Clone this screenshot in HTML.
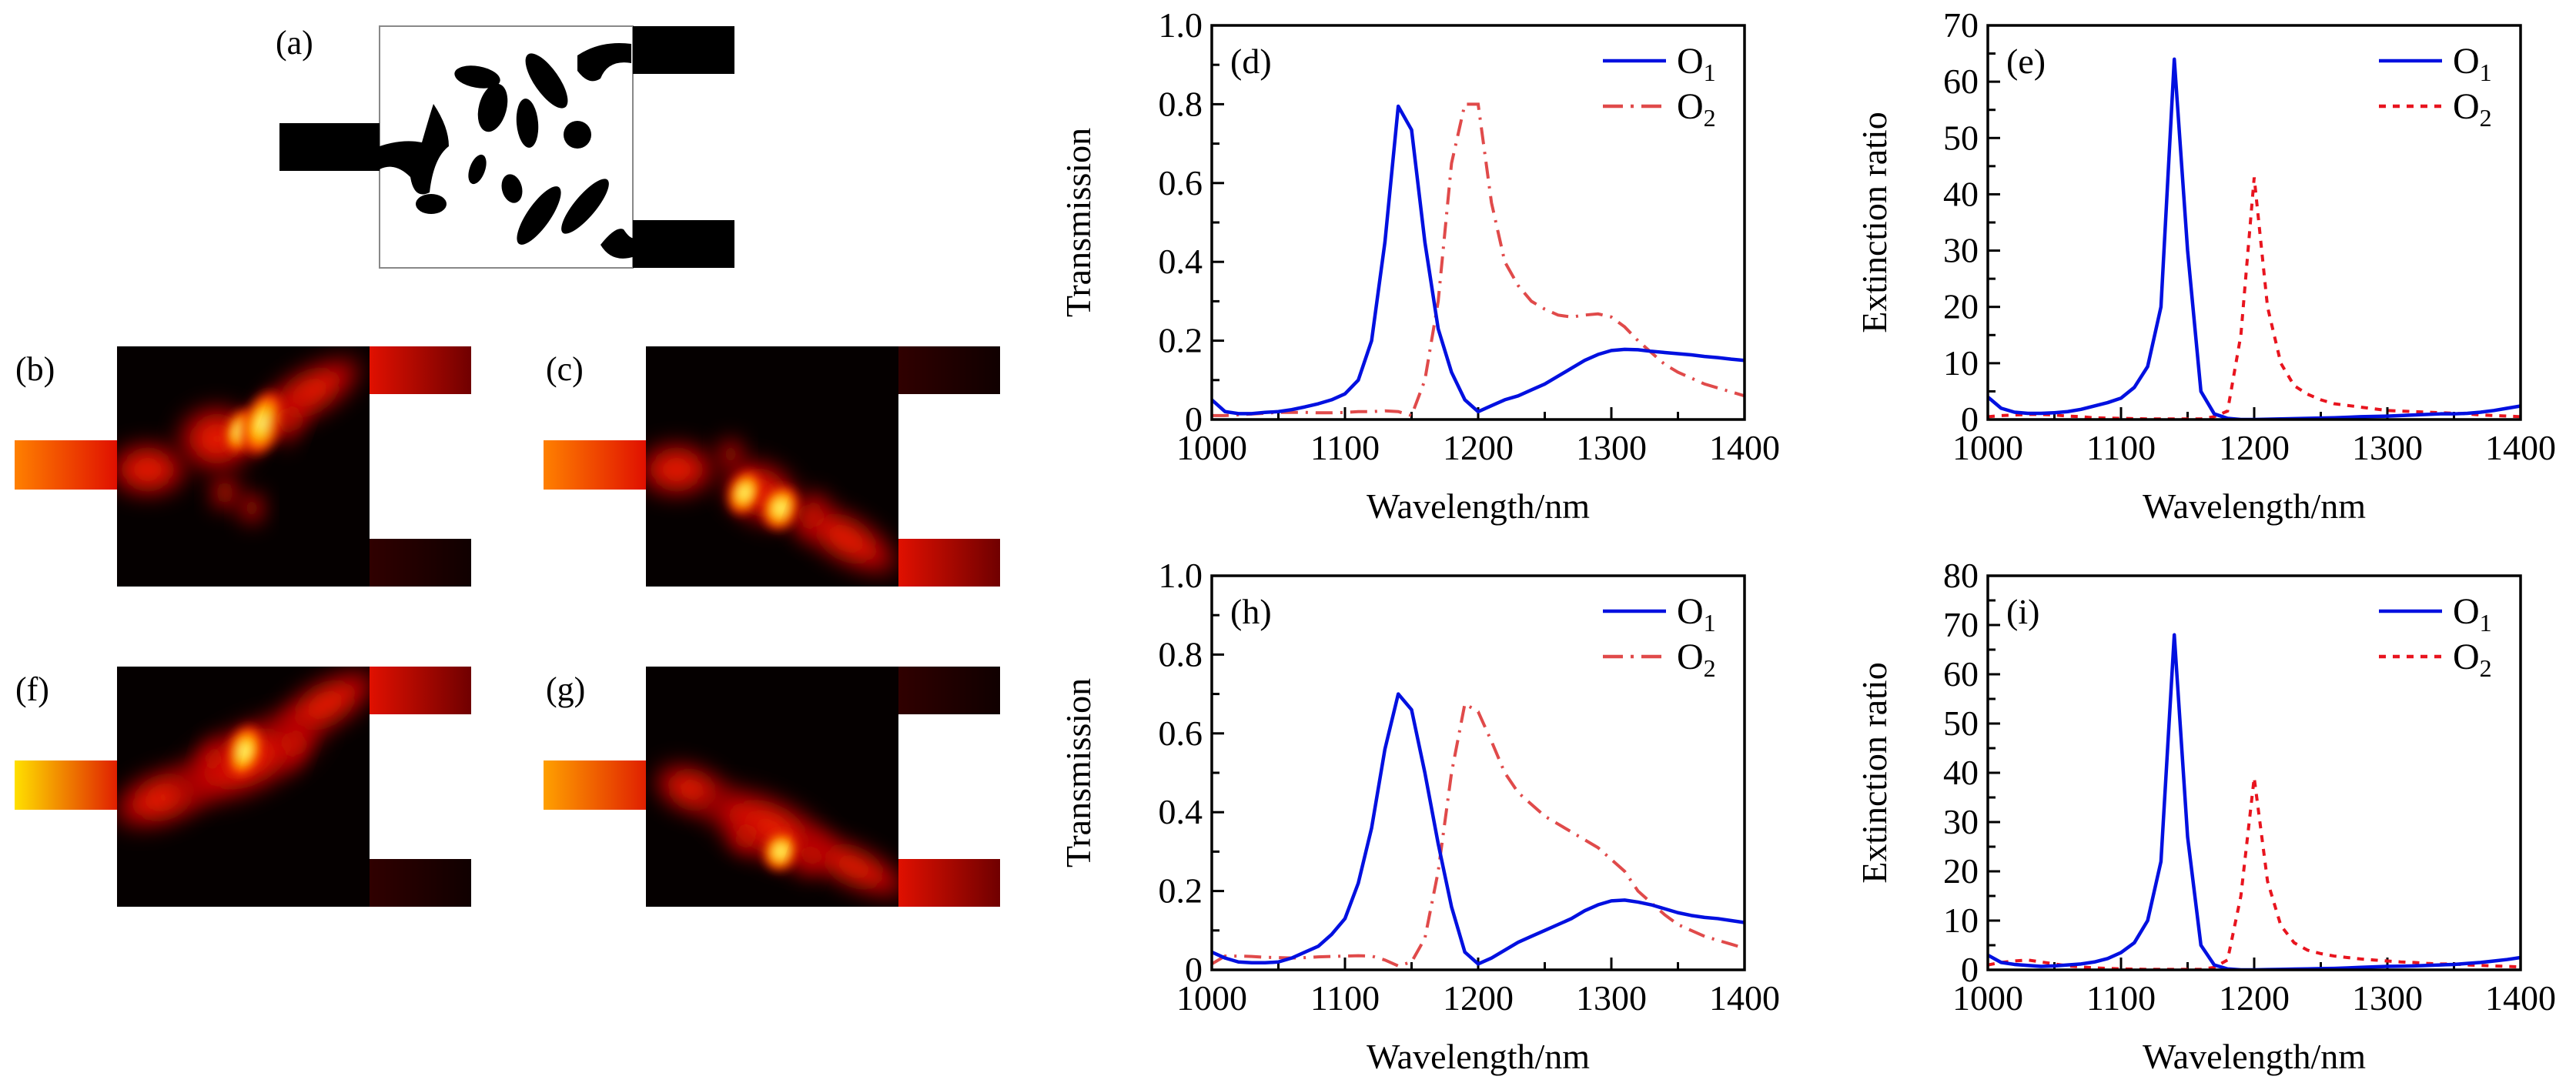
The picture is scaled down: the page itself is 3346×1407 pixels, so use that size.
<!DOCTYPE html>
<html><head><meta charset="utf-8">
<style>
html,body{margin:0;padding:0;background:#fff;}
svg{display:block;font-family:"Liberation Serif","DejaVu Serif",serif;}
</style></head>
<body>
<svg id="fig" width="3346" height="1407" viewBox="0 0 3346 1407" xmlns="http://www.w3.org/2000/svg">
<defs>
  <filter id="blur" x="-50%" y="-50%" width="200%" height="200%"><feGaussianBlur stdDeviation="14"/></filter>
  <filter id="blur2" x="-50%" y="-50%" width="200%" height="200%"><feGaussianBlur stdDeviation="6"/></filter>
  <radialGradient id="hot" cx="50%" cy="50%" r="50%">
    <stop offset="0" stop-color="#ffffa0"/><stop offset="0.35" stop-color="#ffd000"/><stop offset="0.7" stop-color="#ff3000"/><stop offset="1" stop-color="#a00000" stop-opacity="0"/>
  </radialGradient>
  <radialGradient id="red" cx="50%" cy="50%" r="50%">
    <stop offset="0" stop-color="#ff3000"/><stop offset="0.6" stop-color="#c00000"/><stop offset="1" stop-color="#600000" stop-opacity="0"/>
  </radialGradient>
  <linearGradient id="guideL" x1="0" x2="1"><stop offset="0" stop-color="#ff8000"/><stop offset="1" stop-color="#e01000"/></linearGradient>
  <linearGradient id="guideLY" x1="0" x2="1"><stop offset="0" stop-color="#ffe000"/><stop offset="1" stop-color="#e02000"/></linearGradient>
  <linearGradient id="guideLO" x1="0" x2="1"><stop offset="0" stop-color="#ffa000"/><stop offset="1" stop-color="#e02000"/></linearGradient>
  <linearGradient id="guideR" x1="0" x2="1"><stop offset="0" stop-color="#e01000"/><stop offset="1" stop-color="#700000"/></linearGradient>
  <linearGradient id="guideRd" x1="0" x2="1"><stop offset="0" stop-color="#300000"/><stop offset="1" stop-color="#100000"/></linearGradient>
</defs>

<!-- (a) structure -->
<g>
  <text x="358" y="70" font-size="44">(a)</text>
  <rect x="493" y="34" width="329" height="314" fill="#fff" stroke="#888" stroke-width="2"/>
  <rect x="363" y="160" width="130" height="62" fill="#000"/>
  <rect x="822" y="34" width="132" height="62" fill="#000"/>
  <rect x="822" y="286" width="132" height="62" fill="#000"/>
  <g fill="#000">
    <ellipse cx="710" cy="105" rx="16" ry="42" transform="rotate(-35 710 105)"/>
    <path d="M750 72 q30 -20 70 -15 l0 25 q-30 -5 -40 20 q-15 10 -30 -10z"/>
    <ellipse cx="640" cy="140" rx="18" ry="32" transform="rotate(15 640 140)"/>
    <ellipse cx="620" cy="100" rx="30" ry="14" transform="rotate(10 620 100)"/>
    <ellipse cx="685" cy="160" rx="14" ry="32" transform="rotate(-5 685 160)"/>
    <ellipse cx="750" cy="175" rx="18" ry="18"/>
    <path d="M493 190 q30 -10 55 -5 q10 -35 15 -50 q20 30 20 55 q-20 15 -25 60 q-20 10 -25 -20 q-20 -20 -40 -10z"/>
    <ellipse cx="560" cy="265" rx="20" ry="13"/>
    <ellipse cx="620" cy="220" rx="10" ry="20" transform="rotate(20 620 220)"/>
    <ellipse cx="665" cy="245" rx="13" ry="19" transform="rotate(-15 665 245)"/>
    <ellipse cx="700" cy="280" rx="15" ry="45" transform="rotate(35 700 280)"/>
    <ellipse cx="760" cy="268" rx="14" ry="45" transform="rotate(40 760 268)"/>
    <path d="M780 318 q20 -25 30 -20 q10 15 15 10 l0 25 q-30 10 -45 -15z"/>
  </g>
</g>

<g id="heatmaps"></g>
<g id="charts"></g>

<script>
// ---------- chart data ----------
const wl = [1000,1010,1020,1030,1040,1050,1060,1070,1080,1090,1100,1110,1120,1130,1140,1150,1160,1170,1180,1190,1200,1210,1220,1230,1240,1250,1260,1270,1280,1290,1300,1310,1320,1330,1340,1350,1360,1370,1380,1390,1400];
const xTicks = [1000,1100,1200,1300,1400];
const xTickLabels = ["1000","1100","1200","1300","1400"];

const dO1 = [0.05,0.02,0.015,0.015,0.018,0.02,0.025,0.032,0.04,0.05,0.065,0.1,0.2,0.45,0.795,0.735,0.45,0.23,0.12,0.05,0.02,0.035,0.05,0.06,0.075,0.09,0.11,0.13,0.15,0.165,0.175,0.178,0.177,0.173,0.17,0.167,0.164,0.16,0.157,0.153,0.15];
const dO2 = [0.01,0.01,0.012,0.014,0.016,0.018,0.018,0.018,0.017,0.017,0.018,0.02,0.02,0.022,0.02,0.01,0.1,0.3,0.65,0.8,0.8,0.55,0.4,0.34,0.3,0.28,0.265,0.26,0.265,0.268,0.26,0.235,0.2,0.17,0.14,0.12,0.105,0.09,0.08,0.07,0.06];
const eO1 = [4,2,1.3,1.1,1.1,1.2,1.4,1.8,2.4,3,3.8,5.7,9.4,20,64,30,5,1,0.2,0,0,0.05,0.1,0.15,0.2,0.25,0.3,0.4,0.5,0.55,0.6,0.7,0.8,0.9,1,1,1.1,1.3,1.6,2,2.4];
const eO2 = [0.5,0.7,0.8,0.9,0.9,0.8,0.6,0.5,0.3,0.25,0.2,0.15,0.1,0.1,0.1,0.1,0.1,0.5,1.5,15,43,20,10,6,4.5,3.5,2.8,2.5,2.2,1.9,1.6,1.5,1.4,1.3,1.2,1.1,1,0.8,0.7,0.6,0.5];
const hO1 = [0.045,0.03,0.02,0.018,0.018,0.02,0.03,0.045,0.06,0.09,0.13,0.22,0.36,0.56,0.70,0.66,0.5,0.32,0.16,0.045,0.015,0.03,0.05,0.07,0.085,0.1,0.115,0.13,0.15,0.165,0.175,0.177,0.172,0.165,0.155,0.145,0.138,0.133,0.13,0.125,0.12];
const hO2 = [0.015,0.035,0.035,0.034,0.032,0.031,0.03,0.031,0.033,0.034,0.035,0.036,0.035,0.025,0.01,0.02,0.08,0.25,0.5,0.675,0.655,0.58,0.5,0.45,0.42,0.39,0.37,0.35,0.33,0.31,0.28,0.25,0.2,0.17,0.14,0.115,0.1,0.085,0.075,0.065,0.055];
const iO1 = [3,1.5,1.1,0.9,0.7,0.8,1,1.2,1.6,2.3,3.5,5.5,10,22,68,27,5,1,0.2,0,0,0.05,0.1,0.15,0.2,0.25,0.3,0.4,0.5,0.6,0.7,0.75,0.8,0.9,1,1.1,1.3,1.5,1.8,2.1,2.5];
const iO2 = [1,1.5,1.8,2,1.6,1.2,0.8,0.6,0.4,0.3,0.2,0.15,0.1,0.1,0.1,0.1,0.1,0.5,2,15,39,18,9,5.5,4,3.3,2.8,2.5,2.2,2,1.8,1.6,1.5,1.3,1.2,1.2,1,0.9,0.8,0.7,0.6];

const tTicks = [0,0.2,0.4,0.6,0.8,1.0];
const tTickLabels = ["0","0.2","0.4","0.6","0.8","1.0"];
const eTicks = [0,10,20,30,40,50,60,70];
const eTickLabels = ["0","10","20","30","40","50","60","70"];
const iTicks = [0,10,20,30,40,50,60,70,80];
const iTickLabels = ["0","10","20","30","40","50","60","70","80"];

const NS = "http://www.w3.org/2000/svg";
function mk(tag, attrs, parent){
  const el = document.createElementNS(NS, tag);
  for (const k in attrs) el.setAttribute(k, attrs[k]);
  parent.appendChild(el);
  return el;
}
const charts = document.getElementById('charts');

function drawChart(id, L, T, W, H, ymax, yTicks, yTickLabels, minorStep, ylabel, panel, s1, s2, s2dash){
  const g = mk('g', {}, charts);
  
  
  const xs = v => L + (v - 1000) / 400 * W;
  const ys = v => T + H - v / ymax * H;

  for (let v = minorStep; v < ymax; v += minorStep*2) {
    const t = mk('line', {x1:L, x2:L+10, y1:ys(v), y2:ys(v), stroke:'#000','stroke-width':3}, g);
    
    
  }
  yTicks.forEach((v, i) => {
    const t = mk('line', {x1:L, x2:L+16, y1:ys(v), y2:ys(v), stroke:'#000','stroke-width':3}, g);
    
    
    const tx = mk('text', {x:L-12, y:ys(v)+15, 'font-size':46, 'text-anchor':'end'}, g);
    tx.textContent = yTickLabels[i];
    
    
  });
  for (let v = 1050; v < 1400; v += 100) {
    const t = mk('line', {x1:xs(v), x2:xs(v), y1:T+H, y2:T+H-10, stroke:'#000','stroke-width':3}, g);
    
    
  }
  xTicks.forEach((v, i) => {
    const t = mk('line', {x1:xs(v), x2:xs(v), y1:T+H, y2:T+H-16, stroke:'#000','stroke-width':3}, g);
    
    
    const tx = mk('text', {x:xs(v), y:T+H+52, 'font-size':46, 'text-anchor':'middle'}, g);
    tx.textContent = xTickLabels[i];
    
    
  });

  const clip = mk('clipPath', {id:'clip-'+panel}, g);
  mk('rect', {x:L, y:T-4, width:W, height:H+4}, clip);

  const p2 = mk('polyline', {points: wl.map((x,i)=>xs(x)+','+ys(s2[i])).join(' '), fill:'none', stroke: s2dash==='dot' ? '#e8141e' : '#e04a4a', 'stroke-width':4, 'stroke-dasharray': s2dash==='dot' ? '9 9' : '22 10 3 10', 'clip-path':'url(#clip-'+panel+')'}, g);
  
  
  const p1 = mk('polyline', {points: wl.map((x,i)=>xs(x)+','+ys(s1[i])).join(' '), fill:'none', stroke:'#0010e0', 'stroke-width':4.5, 'stroke-linejoin':'round', 'clip-path':'url(#clip-'+panel+')'}, g);
  
  

  const box = mk('rect', {x:L, y:T, width:W, height:H, fill:'none', stroke:'#000', 'stroke-width':3.5}, g);
  
  

  const pl = mk('text', {x:L+24, y:T+62, 'font-size':46}, g);
  pl.textContent = '(' + panel + ')';
  
  

  const lg = mk('g', {}, g);
  
  
  const l1 = mk('line', {x1:L+508, x2:L+590, y1:T+46, y2:T+46, stroke:'#0010e0','stroke-width':4.5}, lg);
  
  
  const l2 = mk('line', {x1:L+508, x2:L+590, y1:T+105, y2:T+105, stroke: s2dash==='dot' ? '#e8141e' : '#e04a4a','stroke-width':4.5, 'stroke-dasharray': s2dash==='dot' ? '9 9' : '26 10 4 10'}, lg);
  
  
  [['1', T+62], ['2', T+121]].forEach(([n, y]) => {
    const t = mk('text', {x:L+604, y:y, 'font-size':48}, lg);
    t.textContent = 'O';
    const s = mk('tspan', {'font-size':32, dy:10}, t);
    s.textContent = n;
    
    
  });

  const xl = mk('text', {x:L+W/2, y:T+H+128, 'font-size':46, 'text-anchor':'middle'}, g);
  xl.textContent = 'Wavelength/nm';
  
  
  const yx = L - (ylabel === 'Transmission' ? 158 : 132);
  const yl = mk('text', {x:yx, y:T+H/2, 'font-size':46, 'text-anchor':'middle', transform:'rotate(-90 '+yx+' '+(T+H/2)+')'}, g);
  yl.textContent = ylabel;
  
  
}

drawChart('d', 1574, 33, 692, 512, 1.0, tTicks, tTickLabels, 0.1, 'Transmission', 'd', dO1, dO2, 'dashdot');
drawChart('e', 2582, 33, 692, 512, 70, eTicks, eTickLabels, 5, 'Extinction ratio', 'e', eO1, eO2, 'dot');
drawChart('h', 1574, 748, 692, 512, 1.0, tTicks, tTickLabels, 0.1, 'Transmission', 'h', hO1, hO2, 'dashdot');
drawChart('i', 2582, 748, 692, 512, 80, iTicks, iTickLabels, 5, 'Extinction ratio', 'i', iO1, iO2, 'dot');

// ---------- field maps ----------
const hm = document.getElementById('heatmaps');
function fieldMap(panel, ox, oy, leftFill, topFill, botFill, spots){
  const g = mk('g', {}, hm);
  
  
  const cid = 'fc-' + panel;
  const cp = mk('clipPath', {id:cid}, g);
  mk('rect', {x:ox, y:oy, width:328, height:312}, cp);
  mk('rect', {x:ox, y:oy, width:328, height:312, fill:'#050000'}, g);
  const sg = mk('g', {'clip-path':'url(#'+cid+')'}, g);
  spots.forEach(s => {
    const e = mk('ellipse', {cx:ox+s[0], cy:oy+s[1], rx:s[2], ry:s[3], fill:'url(#'+s[5]+')', transform:'rotate('+s[4]+' '+(ox+s[0])+' '+(oy+s[1])+')', filter: s[5]==='red' ? 'url(#blur)' : 'url(#blur2)'}, sg);
    
    
  });
  const lw = mk('rect', {x:ox-133, y:oy+122, width:133, height:64, fill:'url(#'+leftFill+')'}, g);
  
  
  const tw = mk('rect', {x:ox+328, y:oy, width:132, height:62, fill:'url(#'+topFill+')'}, g);
  
  
  const bw = mk('rect', {x:ox+328, y:oy+250, width:132, height:62, fill:'url(#'+botFill+')'}, g);
  
  
  const lab = mk('text', {x: panel==='b'||panel==='f' ? ox-132 : ox-130, y:oy+44, 'font-size':44}, g);
  lab.textContent = '(' + panel + ')';
  
  
}
fieldMap('b', 152, 450, 'guideL', 'guideR', 'guideRd', [
  [40,160,60,40,0,'red'],[130,120,60,50,0,'red'],[250,60,90,35,-30,'red'],
  [160,110,22,34,20,'hot'],[190,100,30,50,20,'hot'],[225,95,18,40,20,'red'],[140,190,20,26,0,'red'],[175,210,18,24,0,'red']
]);
fieldMap('c', 839, 450, 'guideL', 'guideRd', 'guideR', [
  [40,160,60,40,0,'red'],[150,190,60,45,30,'red'],[260,250,90,35,30,'red'],
  [128,190,24,34,20,'hot'],[175,210,28,34,20,'hot'],[215,220,18,40,20,'red'],[110,140,18,24,0,'red']
]);
fieldMap('f', 152, 866, 'guideLY', 'guideR', 'guideRd', [
  [60,170,80,40,-20,'red'],[170,120,120,50,-25,'red'],[270,50,90,35,-30,'red'],
  [165,110,26,40,20,'hot'],[125,120,18,30,15,'red'],[230,100,18,40,20,'red']
]);
fieldMap('g', 839, 866, 'guideLO', 'guideRd', 'guideR', [
  [60,160,60,35,20,'red'],[160,210,110,45,25,'red'],[270,260,90,30,25,'red'],
  [130,220,22,28,20,'red'],[175,240,26,30,20,'hot'],[215,245,16,36,20,'red']
]);
</script>
</svg>
</body></html>
